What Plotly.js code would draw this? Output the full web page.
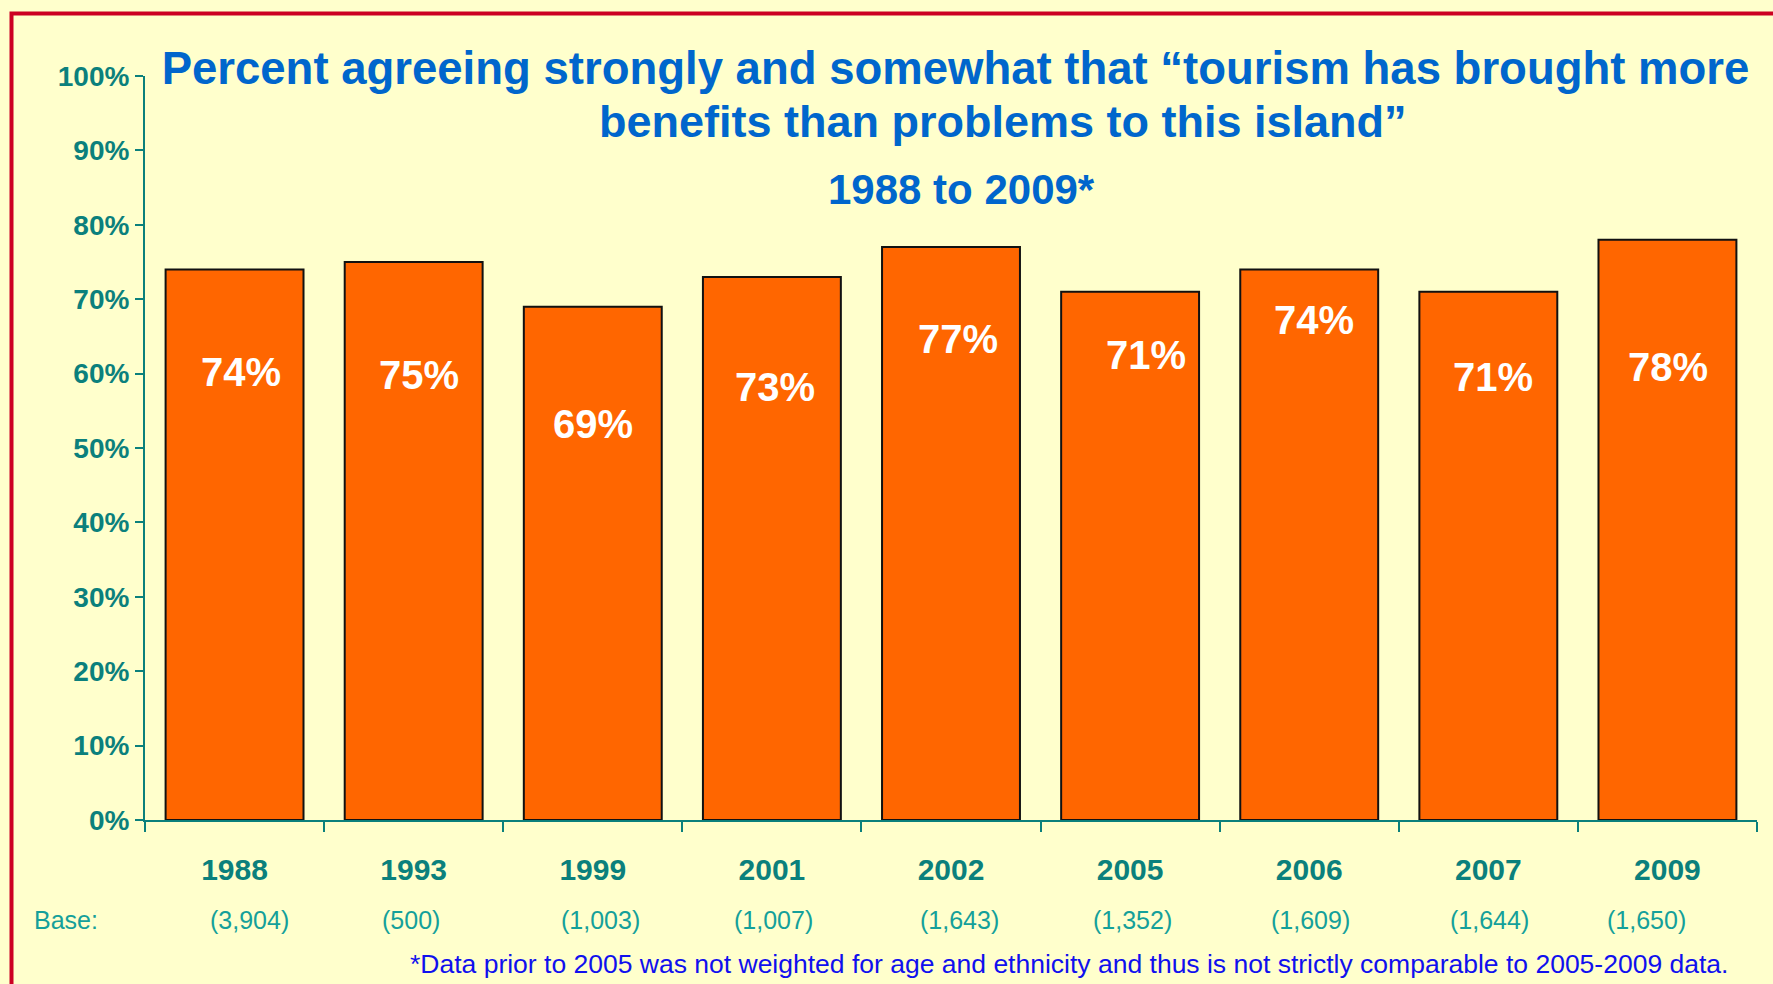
<!DOCTYPE html>
<html>
<head>
<meta charset="utf-8">
<script src="https://cdn.plot.ly/plotly-3.0.1.min.js"></script>
<style>
  html, body { margin: 0; padding: 0; background: #FFFFCC; }
  #chart { width: 1773px; height: 984px; }
</style>
</head>
<body>
<div id="chart"></div>
<script>
// ---- data ----
const years = ['1988', '1993', '1999', '2001', '2002', '2005', '2006', '2007', '2009'];
const agreePct = [74, 75, 69, 73, 77, 71, 74, 71, 78];
const baseLabels = ['(3,904)', '(500)', '(1,003)', '(1,007)', '(1,643)', '(1,352)', '(1,609)', '(1,644)', '(1,650)'];
const yTickVals = [0, 10, 20, 30, 40, 50, 60, 70, 80, 90, 100];
const yTickText = ['0%', '10%', '20%', '30%', '40%', '50%', '60%', '70%', '80%', '90%', '100%'];
const titleLine1 = 'Percent agreeing strongly and somewhat that \u201ctourism has brought more';
const titleLine2 = 'benefits than problems to this island\u201d';
const titleLine3 = '1988 to 2009*';
const baseTitle = 'Base:';
const footnote = '*Data prior to 2005 was not weighted for age and ethnicity and thus is not strictly comparable to 2005-2009 data.';

// ---- label placement (style, in pixels) ----
const labelShiftY = [-103, -113, -117, -110, -92, -63, -51, -85, -127];
const labelShiftX = [6, 5, 0, 3, 7, 16, 5, 5, 1];
const baseShiftX = [15, -3, 8, 2, 8, 2, 1, 1, -21];

// ---- layout geometry ----
const W = 1773, H = 984;
const M = { l: 145, r: 16, t: 76, b: 164 };
const PW = W - M.l - M.r, PH = H - M.t - M.b;
const px2x = p => (p - M.l) / PW;
const py2y = p => (H - M.b - p) / PH;

const FONT = 'Arial, "Liberation Sans", Helvetica, sans-serif';
const TEAL = '#0B807C';
const TEAL_LIGHT = '#14A09A';
const BLUE = '#0066CC';

const annotations = [];
years.forEach((yr, i) => {
  // category axis: annotation x is the category's serial index
  annotations.push({
    x: i, y: agreePct[i], xref: 'x', yref: 'y',
    text: agreePct[i] + '%', showarrow: false,
    xanchor: 'center', yanchor: 'middle',
    xshift: labelShiftX[i], yshift: labelShiftY[i],
    font: { family: FONT, size: 40, color: '#FFFFFF', weight: 'bold' }
  });
  annotations.push({
    x: i, y: py2y(920), xref: 'x', yref: 'paper',
    text: baseLabels[i], showarrow: false,
    xanchor: 'center', yanchor: 'middle', xshift: baseShiftX[i],
    font: { family: FONT, size: 25, color: TEAL_LIGHT }
  });
});
annotations.push({
  x: px2x(32), y: py2y(920), xref: 'paper', yref: 'paper',
  text: baseTitle, showarrow: false, xanchor: 'left', yanchor: 'middle',
  font: { family: FONT, size: 25, color: TEAL_LIGHT }
});
annotations.push({
  x: px2x(1730), y: py2y(964), xref: 'paper', yref: 'paper',
  text: footnote, showarrow: false, xanchor: 'right', yanchor: 'middle',
  font: { family: FONT, size: 26.5, color: '#1010EE' }
});
annotations.push({
  x: px2x(1003), y: py2y(122), xref: 'paper', yref: 'paper',
  text: titleLine2, showarrow: false, xanchor: 'center', yanchor: 'middle',
  font: { family: FONT, size: 45, color: BLUE, weight: 'bold' }
});
annotations.push({
  x: px2x(961), y: py2y(189), xref: 'paper', yref: 'paper',
  text: titleLine3, showarrow: false, xanchor: 'center', yanchor: 'middle',
  font: { family: FONT, size: 42, color: BLUE, weight: 'bold' }
});

const trace = {
  type: 'bar',
  x: years,
  y: agreePct,
  marker: { color: '#FF6600', line: { color: '#111111', width: 2 } },
  hoverinfo: 'skip'
};

const layout = {
  width: W, height: H,
  margin: M,
  paper_bgcolor: '#FFFFCC',
  plot_bgcolor: '#FFFFCC',
  showlegend: false,
  bargap: 0.23,
  title: {
    text: titleLine1,
    x: 955.5 / W, xref: 'container', xanchor: 'center',
    y: 1 - 68 / H, yref: 'container', yanchor: 'middle',
    font: { family: FONT, size: 45.5, color: BLUE, weight: 'bold' }
  },
  xaxis: {
    type: 'category',
    range: [-0.5, years.length - 0.5],
    showgrid: false, zeroline: false,
    showline: true, linecolor: TEAL, linewidth: 2,
    ticks: 'outside', tickson: 'boundaries', ticklen: 10, tickwidth: 2, tickcolor: TEAL,
    ticklabelstandoff: 22, tickangle: 0,
    tickfont: { family: FONT, size: 30, color: TEAL, weight: 'bold' },
    fixedrange: true
  },
  yaxis: {
    range: [0, 100],
    tickvals: yTickVals, ticktext: yTickText,
    showgrid: false, zeroline: false,
    showline: true, linecolor: TEAL, linewidth: 2,
    ticks: 'outside', ticklen: 8, tickwidth: 2, tickcolor: TEAL,
    ticklabelstandoff: 0,
    tickfont: { family: FONT, size: 28, color: TEAL, weight: 'bold' },
    fixedrange: true
  },
  shapes: [{
    type: 'rect', xref: 'paper', yref: 'paper', layer: 'above',
    x0: px2x(11.5), x1: px2x(1800), y0: py2y(1010), y1: py2y(13.5),
    line: { color: '#CC0022', width: 4 }, fillcolor: 'rgba(0,0,0,0)'
  }],
  annotations: annotations
};

Plotly.newPlot('chart', [trace], layout, { displayModeBar: false, staticPlot: true });
</script>
</body>
</html>
